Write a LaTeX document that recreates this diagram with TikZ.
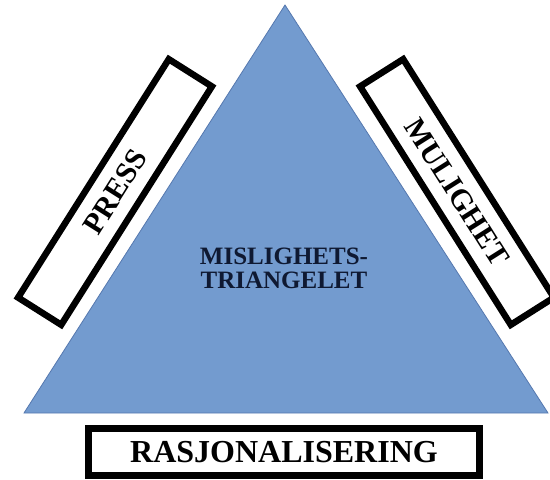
\documentclass[tikz,border=0pt]{standalone}
\usepackage{fontspec}
\setmainfont{Liberation Serif}
\definecolor{trifill}{RGB}{115,155,207}
\definecolor{triedge}{RGB}{85,120,175}
\definecolor{navy}{RGB}{15,25,50}
\begin{document}
\begin{tikzpicture}[x=1pt,y=1pt,
  tri/.style={fill=trifill, draw=triedge, line width=0.8pt, line join=miter},
  sidebox/.style={draw=black, line width=6.5pt, fill=white, minimum width=282pt, minimum height=51pt, inner sep=0pt, font=\bfseries\fontsize{30}{30}\selectfont},
  basebox/.style={draw=black, line width=6.5pt, fill=white, minimum width=391pt, minimum height=47pt, inner sep=0pt, font=\bfseries\fontsize{32}{32}\selectfont},
  centertext/.style={align=center, text=navy, font=\bfseries\fontsize{25}{24}\selectfont}
]
\useasboundingbox (0,0) rectangle (550,-480);
\clip (0,0) rectangle (550,-480);
\coordinate (apex) at (285,-5);
\coordinate (bl) at (24,-413);
\coordinate (br) at (548,-413);
\draw[tri] (apex) -- (br) -- (bl) -- cycle;
\node[sidebox, rotate=57.7] (press) at (115,-192) {PRESS};
\node[sidebox, rotate=-57.7] (mulighet) at (457,-192) {MULIGHET};
\node[basebox] (rasj) at (284,-452) {RASJONALISERING};
\node[centertext] (title) at (284,-268) {MISLIGHETS-\\TRIANGELET};
\end{tikzpicture}
\end{document}
